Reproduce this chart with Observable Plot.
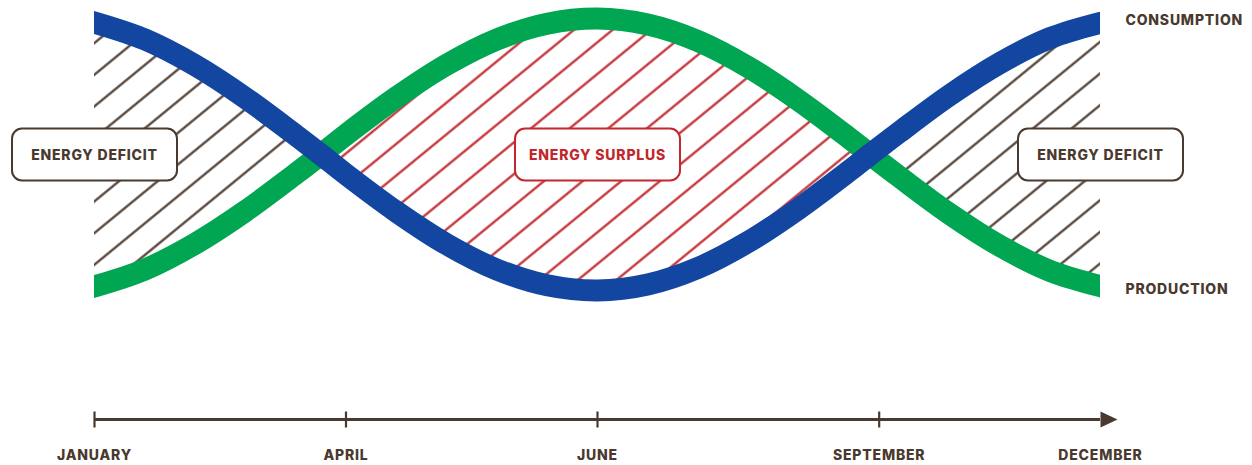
<!DOCTYPE html>
<html><head><meta charset="utf-8">
<script src="https://cdn.jsdelivr.net/npm/d3@7"></script>
<script src="https://cdn.jsdelivr.net/npm/@observablehq/plot@0.6"></script>
<style>
html,body{margin:0;padding:0;background:#fff;}
#chart svg text{letter-spacing:0.8px;}
</style></head><body><div id="chart"></div>
<script>
// position along the year (0 = January, 100 = December)
const yearPos     = [0, 5, 10, 15, 20, 22.5, 25, 30, 35, 40, 45, 50, 55, 60, 65, 70, 75, 77.1, 80, 85, 90, 95, 100];
const consumption = [98.5, 92.3, 82.8, 70.8, 57.1, 50, 42.7, 29.0, 17.0, 7.7, 1.9, 0, 2.2, 8.3, 17.9, 30.1, 43.9, 50, 58.2, 71.8, 83.6, 92.8, 98.4];
const production  = [1.5, 7.7, 17.2, 29.2, 42.9, 50, 57.3, 71.0, 83.0, 92.3, 98.1, 100, 97.8, 91.7, 82.1, 69.9, 56.1, 50, 41.8, 28.2, 16.4, 7.2, 1.6];
const seriesNames = ["CONSUMPTION", "PRODUCTION"];

const tickPositions = [0, 25, 50, 78, 100];
const tickLabels = ["JANUARY", "APRIL", "JUNE", "SEPTEMBER", "DECEMBER"];
const tickMarks = [0, 25, 50, 78];

const crossingLevel = 50;
const regionPositions = [0, 50, 100];
const regionLabels = ["ENERGY DEFICIT", "ENERGY SURPLUS", "ENERGY DEFICIT"];
const regionKinds = ["deficit", "surplus", "deficit"];

const BROWN = "#4a392e", BLUE = "#1346a0", GREEN = "#00a651", RED = "#c1272d";
const FONT = "Inter, 'Open Sans', sans-serif";
const Y_DOMAIN = [-47.42, 106.62];

const rows = yearPos.map((t, i) => ({t, cons: consumption[i], prod: production[i]}));
const regions = regionPositions.map((x, i) => ({x, label: regionLabels[i], kind: regionKinds[i]}));
const lastT = yearPos[yearPos.length - 1];
const ends = [
  {name: seriesNames[0], t: lastT, v: consumption[consumption.length - 1]},
  {name: seriesNames[1], t: lastT, v: production[production.length - 1]}
];

const boxSymbol = {draw(ctx) {
  const w = 165, h = 52, r = 10, x0 = -w / 2, y0 = -h / 2;
  ctx.moveTo(x0 + r, y0);
  ctx.lineTo(x0 + w - r, y0); ctx.arcTo(x0 + w, y0, x0 + w, y0 + r, r);
  ctx.lineTo(x0 + w, y0 + h - r); ctx.arcTo(x0 + w, y0 + h, x0 + w - r, y0 + h, r);
  ctx.lineTo(x0 + r, y0 + h); ctx.arcTo(x0, y0 + h, x0, y0 + h - r, r);
  ctx.lineTo(x0, y0 + r); ctx.arcTo(x0, y0, x0 + r, y0, r);
  ctx.closePath();
}};
const tickSymbol = {draw(ctx) { ctx.moveTo(0, -8); ctx.lineTo(0, 8); }};
const arrowSymbol = {draw(ctx) { ctx.moveTo(0, -8); ctx.lineTo(17, 0); ctx.lineTo(0, 8); ctx.closePath(); }};

const curve = "catmull-rom";
const textStyle = {fontSize: 14, fontWeight: 800};
const plot = Plot.plot({
  width: 1252, height: 465,
  marginLeft: 94, marginRight: 152, marginTop: 0, marginBottom: 46,
  x: {domain: [0, 100], axis: null},
  y: {domain: Y_DOMAIN, axis: null},
  style: {fontFamily: FONT, color: BROWN, background: "white", overflow: "visible"},
  marks: [
    Plot.areaY(rows, {x: "t", y1: "prod", y2: d => Math.max(d.prod, d.cons), curve, fill: "url(#hatchDeficit)"}),
    Plot.areaY(rows, {x: "t", y1: "cons", y2: d => Math.max(d.prod, d.cons), curve, fill: "url(#hatchSurplus)"}),
    Plot.line(rows, {x: "t", y: "prod", curve, stroke: GREEN, strokeWidth: 22, strokeLinecap: "square", clip: true}),
    Plot.line(rows, {x: "t", y: "cons", curve, stroke: BLUE, strokeWidth: 22, strokeLinecap: "square", clip: true}),
    Plot.dot(regions.filter(d => d.kind === "deficit"), {x: "x", y: () => crossingLevel, symbol: boxSymbol, fill: "white", stroke: BROWN, strokeWidth: 2}),
    Plot.dot(regions.filter(d => d.kind === "surplus"), {x: "x", y: () => crossingLevel, symbol: boxSymbol, fill: "white", stroke: RED, strokeWidth: 2}),
    Plot.text(regions, {x: "x", y: () => crossingLevel, dy: 1, text: "label", fill: d => d.kind === "surplus" ? RED : BROWN, ...textStyle}),
    Plot.text(ends.slice(0, 1), {x: "t", y: "v", text: "name", dx: 25, dy: -2, textAnchor: "start", fill: BROWN, ...textStyle}),
    Plot.text(ends.slice(1), {x: "t", y: "v", text: "name", dx: 25, dy: 3, textAnchor: "start", fill: BROWN, ...textStyle}),
    Plot.ruleY([Y_DOMAIN[0]], {stroke: BROWN, strokeWidth: 3}),
    Plot.dot(tickMarks, {x: d => d, frameAnchor: "bottom", symbol: tickSymbol, stroke: BROWN, strokeWidth: 2.2}),
    Plot.dot([tickPositions[tickPositions.length - 1]], {x: d => d, frameAnchor: "bottom", symbol: arrowSymbol, fill: BROWN, stroke: "none"}),
    Plot.text(tickLabels, {x: (d, i) => tickPositions[i], frameAnchor: "bottom", dy: 40, text: d => d, fill: BROWN, ...textStyle})
  ]
});

const svg = d3.select(plot);
const defs = svg.insert("defs", ":first-child");
function hatch(id, color) {
  const p = defs.append("pattern").attr("id", id).attr("patternUnits", "userSpaceOnUse")
    .attr("width", 10).attr("height", 24.49)
    .attr("patternTransform", "translate(94,27.5) rotate(-39.35)");
  p.append("line").attr("x1", -1).attr("x2", 11).attr("y1", 12.245).attr("y2", 12.245)
    .attr("stroke", color).attr("stroke-width", 2.2);
}
hatch("hatchDeficit", BROWN);
hatch("hatchSurplus", RED);
document.getElementById("chart").appendChild(plot);
</script>
</body></html>
